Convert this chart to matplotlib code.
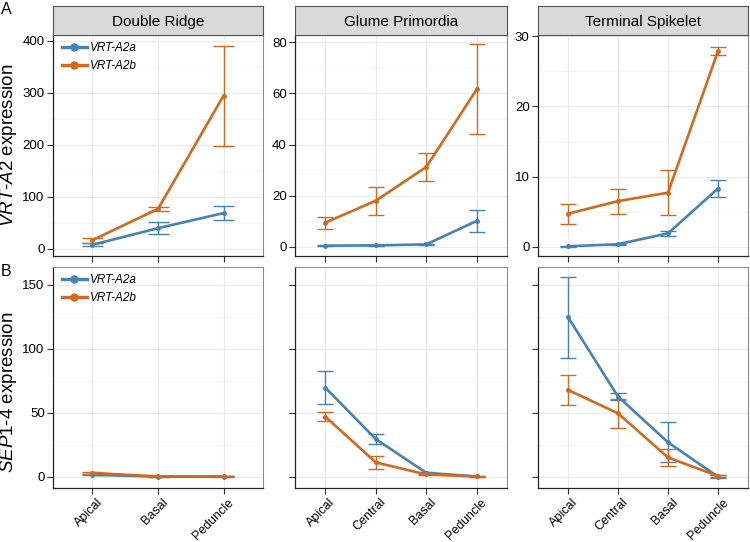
import matplotlib.pyplot as plt
import matplotlib.ticker as mticker
import matplotlib.transforms as mtransforms
from matplotlib.lines import Line2D
import numpy as np

plt.rcParams['font.family'] = ['Liberation Sans', 'DejaVu Sans']
plt.rcParams['mathtext.fontset'] = 'custom'
plt.rcParams['mathtext.rm'] = 'Liberation Sans'
plt.rcParams['mathtext.it'] = 'Liberation Sans:italic'

stages = ["Double Ridge", "Glume Primordia", "Terminal Spikelet"]
regions_dr = ["Apical", "Basal", "Peduncle"]
regions = ["Apical", "Central", "Basal", "Peduncle"]
series = ["VRT-A2a", "VRT-A2b"]

# VRT-A2 expression (top row), mean and SE
vrt_a2a_dr = [8, 40, 69]
vrt_a2a_dr_se = [3, 12, 13.5]
vrt_a2b_dr = [17, 77, 295]
vrt_a2b_dr_se = [5, 4.5, 96]
vrt_a2a_gp = [0.4, 0.5, 0.9, 10.1]
vrt_a2a_gp_se = [0.2, 0.2, 0.3, 4.4]
vrt_a2b_gp = [9.4, 18, 31.2, 61.6]
vrt_a2b_gp_se = [2.3, 5.5, 5.6, 17.6]
vrt_a2a_ts = [0.05, 0.35, 1.9, 8.3]
vrt_a2a_ts_se = [0.05, 0.1, 0.4, 1.15]
vrt_a2b_ts = [4.7, 6.5, 7.7, 27.9]
vrt_a2b_ts_se = [1.4, 1.8, 3.2, 0.6]

# SEP1-4 expression (bottom row)
sep_a2a_dr = [1.5, 0.1, 0.1]
sep_a2a_dr_se = [0.5, 0.1, 0.1]
sep_a2b_dr = [3.0, 0.2, 0.3]
sep_a2b_dr_se = [0.8, 0.1, 0.1]
sep_a2a_gp = [69.7, 29.5, 3.1, 0.2]
sep_a2a_gp_se = [13.2, 3.6, 0.5, 0.1]
sep_a2b_gp = [47, 11.2, 1.8, 0.2]
sep_a2b_gp_se = [3.7, 4.8, 0.4, 0.1]
sep_a2a_ts = [124.8, 62.7, 26.9, 0.0]
sep_a2a_ts_se = [31.6, 2.9, 15.7, 1.0]
sep_a2b_ts = [67.9, 49.6, 15.1, 0.5]
sep_a2b_ts_se = [12, 11.4, 6.8, 0.5]

colors = ["#4682B4", "#D2691E"]
W, H = 750, 542

fig = plt.figure(figsize=(7.5, 5.42), dpi=100)


def px_axes(x0, y0, x1, y1):
    # pixel box measured from top-left
    return fig.add_axes([x0 / W, 1 - y1 / H, (x1 - x0) / W, (y1 - y0) / H])


cols = [(53, 263), (295, 507), (538, 748)]
rows = [(35, 256), (267, 488)]

top_data = [
    (regions_dr, [(vrt_a2a_dr, vrt_a2a_dr_se), (vrt_a2b_dr, vrt_a2b_dr_se)], (-13.5, 411.5), [0, 100, 200, 300, 400]),
    (regions, [(vrt_a2a_gp, vrt_a2a_gp_se), (vrt_a2b_gp, vrt_a2b_gp_se)], (-3.65, 82.9), [0, 20, 40, 60, 80]),
    (regions, [(vrt_a2a_ts, vrt_a2a_ts_se), (vrt_a2b_ts, vrt_a2b_ts_se)], (-1.33, 30.2), [0, 10, 20, 30]),
]
bottom_data = [
    (regions_dr, [(sep_a2a_dr, sep_a2a_dr_se), (sep_a2b_dr, sep_a2b_dr_se)]),
    (regions, [(sep_a2a_gp, sep_a2a_gp_se), (sep_a2b_gp, sep_a2b_gp_se)]),
    (regions, [(sep_a2a_ts, sep_a2a_ts_se), (sep_a2b_ts, sep_a2b_ts_se)]),
]


def style_axes(ax, cats, ylim, yticks):
    n = len(cats)
    x = np.arange(1, n + 1)
    ax.set_xlim(0.4, n + 0.6)
    ax.set_ylim(*ylim)
    ax.set_xticks(x)
    ax.set_yticks(yticks)
    step = yticks[1] - yticks[0]
    ax.yaxis.set_minor_locator(mticker.MultipleLocator(step / 2))
    ax.grid(True, which='major', color='#ebebeb', lw=0.9)
    ax.grid(True, which='minor', axis='y', color='#f3f3f3', lw=0.5)
    ax.set_axisbelow(True)
    ax.tick_params(which='minor', left=False)
    ax.tick_params(which='major', length=4, width=0.8, color='#333333',
                   labelsize=9.5, labelcolor='black', pad=2)
    ax.tick_params(axis='x', labelsize=9, pad=2)
    for s in ['top', 'right']:
        ax.spines[s].set_color('#8c8c8c')
        ax.spines[s].set_linewidth(0.8)
    for s in ['left', 'bottom']:
        ax.spines[s].set_color('#222222')
        ax.spines[s].set_linewidth(0.9)
    return x


def draw(ax, x, pairs):
    for (mean, se), c in zip(pairs, colors):
        mean = np.asarray(mean, float)
        se = np.asarray(se, float)
        ax.plot(x, mean, '-o', color=c, lw=1.9, ms=2.5, zorder=3)
        ax.vlines(x, mean - se, mean + se, color=c, lw=1.0, zorder=2)
        ax.hlines(mean - se, x - 0.16, x + 0.16, color=c, lw=1.0, zorder=2)
        ax.hlines(mean + se, x - 0.16, x + 0.16, color=c, lw=1.0, zorder=2)


def add_legend(ax):
    hs = [Line2D([], [], color=c, lw=2.4, marker='o', ms=5) for c in colors]
    ax.legend(hs, series, loc='upper left', frameon=False,
              prop={'style': 'italic', 'size': 8.5}, handlelength=2.1,
              handletextpad=0.3, borderaxespad=0.0,
              bbox_to_anchor=(0.02, 0.99))


for i, ((cats, pairs, ylim, yticks), (x0, x1)) in enumerate(zip(top_data, cols)):
    ax = px_axes(x0, rows[0][0], x1, rows[0][1])
    x = style_axes(ax, cats, ylim, yticks)
    ax.set_xticklabels([])
    draw(ax, x, pairs)
    # facet strip
    st = px_axes(x0, 6, x1, 35)
    st.set_facecolor('#d9d9d9')
    st.set_xticks([])
    st.set_yticks([])
    for s in st.spines.values():
        s.set_color('#555555')
        s.set_linewidth(0.8)
    st.text(0.5, 0.45, stages[i], ha='center', va='center', fontsize=11)
    if i == 0:
        add_legend(ax)

shift = mtransforms.ScaledTranslation(4 / 100, 0, fig.dpi_scale_trans)
for i, ((cats, pairs), (x0, x1)) in enumerate(zip(bottom_data, cols)):
    ax = px_axes(x0, rows[1][0], x1, rows[1][1])
    x = style_axes(ax, cats, (-8.8, 164), [0, 50, 100, 150])
    ax.set_xticklabels(cats, rotation=45, ha='right', va='top',
                       rotation_mode='anchor')
    for lab in ax.get_xticklabels():
        lab.set_transform(lab.get_transform() + shift)
    draw(ax, x, pairs)
    if i == 0:
        add_legend(ax)
    else:
        ax.set_yticklabels([])

# y axis titles
fig.text(9 / W, 1 - 145 / H, '$\\mathit{VRT\u2010A2}$ expression', rotation=90,
         ha='center', va='center', fontsize=13.5)
fig.text(9 / W, 1 - 392 / H, '$\\mathit{SEP1\u20104}$ expression', rotation=90,
         ha='center', va='center', fontsize=13.5)

fig.text(1 / W, 1 - 9 / H, 'A', fontsize=11.5, va='center', ha='left')
fig.text(1 / W, 1 - 272 / H, 'B', fontsize=11.5, va='center', ha='left')

fig.savefig('out.png', dpi=100)
